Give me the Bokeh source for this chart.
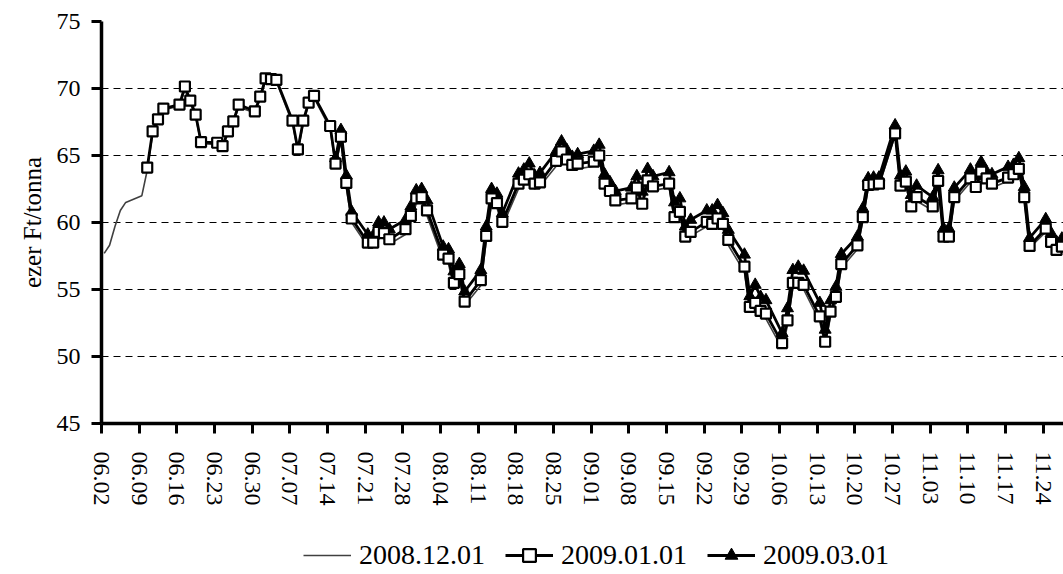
import pandas as pd
from bokeh.plotting import figure
from bokeh.layouts import column
from bokeh.models import Range1d, FixedTicker, Legend, LegendItem, ColumnDataSource
from bokeh.embed import file_html
from bokeh.resources import INLINE

# trading days (2008, month.day)
dates = [
    # June
    "06.02", "06.03", "06.04", "06.05", "06.06", "06.09", "06.10", "06.11", "06.12", "06.13",
    "06.16", "06.17", "06.18", "06.19", "06.20", "06.23", "06.24", "06.25", "06.26", "06.27", "06.30",
    # July
    "07.01", "07.02", "07.03", "07.04", "07.07", "07.08", "07.09", "07.10", "07.11", "07.14",
    "07.15", "07.16", "07.17", "07.18", "07.21", "07.22", "07.23", "07.24", "07.25", "07.28",
    "07.29", "07.30", "07.31",
    # August
    "08.01", "08.04", "08.05", "08.06", "08.07", "08.08", "08.11", "08.12", "08.13", "08.14",
    "08.15", "08.18", "08.19", "08.20", "08.21", "08.22", "08.25", "08.26", "08.27", "08.28", "08.29",
    # September
    "09.01", "09.02", "09.03", "09.04", "09.05", "09.08", "09.09", "09.10", "09.11", "09.12",
    "09.15", "09.16", "09.17", "09.18", "09.19", "09.22", "09.23", "09.24", "09.25", "09.26",
    "09.29", "09.30",
    # October
    "10.01", "10.02", "10.03", "10.06", "10.07", "10.08", "10.09", "10.10", "10.13", "10.14",
    "10.15", "10.16", "10.17", "10.20", "10.21", "10.22", "10.23", "10.24", "10.27", "10.28",
    "10.29", "10.30", "10.31",
    # November
    "11.03", "11.04", "11.05", "11.06", "11.07", "11.10", "11.11", "11.12", "11.13", "11.14",
    "11.17", "11.18", "11.19", "11.20", "11.21", "11.24", "11.25", "11.26", "11.27",
]

s_2008_12_01 = [
    57.7, 58.3, 59.7, 60.9, 61.5, 62.0, 63.9, 66.6, 67.5, 68.4,
    68.7, 69.9, 68.9, 67.9, 65.9, 65.8, 65.6, 66.6, 67.4, 68.6, 68.2,
    69.2, 70.6, 70.5, 70.5, 67.4, 65.3, 67.4, 68.8, 69.3, 67.0,
    64.2, 66.1, 62.6, 60.0, 58.2, 58.2, 58.9, 58.8, 58.4, 59.1,
    60.1, 61.4, 61.5,
    60.5, 57.2, 56.9, 55.1, 55.8, 53.8, 55.3, 58.6, 61.4, 61.1,
    59.7, 62.5, 62.8, 63.2, 62.5, 62.7, 64.2, 64.9, 64.3, 63.9, 64.0,
    64.2, 64.7, 62.6, 62.0, 61.3, 61.5, 62.3, 61.1, 62.8, 62.4,
    62.6, 60.1, 60.5, 58.6, 59.0, 59.7, 59.6, 59.9, 59.5, 58.3,
    56.3, 53.3,
    53.6, 53.0, 52.8, 50.6, 52.3, 55.1, 55.1, 55.0, 52.6, 50.8,
    53.0, 54.1, 56.6, 58.0, 60.1, 62.6, 62.7, 62.7, 66.5, 62.5,
    62.8, 60.9, 61.6,
    60.9, 62.9, 58.8, 58.8, 61.6, 63.0, 62.4, 63.5, 63.0, 62.6,
    63.1, 63.3, 63.8, 61.7, 58.1, 59.3, 58.3, 57.7, 57.9,
]

s_2009_01_01 = [
    None, None, None, None, None, None, 64.1, 66.8, 67.7, 68.5,
    68.8, 70.15, 69.1, 68.05, 66.0, 65.95, 65.7, 66.8, 67.55, 68.8, 68.3,
    69.4, 70.75, 70.7, 70.65, 67.6, 65.45, 67.6, 68.95, 69.45, 67.2,
    64.4, 66.4, 62.95, 60.3, 58.5, 58.5, 59.3, 59.2, 58.75, 59.5,
    60.5, 61.8, 61.9,
    60.9, 57.6, 57.3, 55.5, 56.15, 54.1, 55.7, 59.0, 61.8, 61.45,
    60.05, 62.9, 63.2, 63.6, 62.9, 63.0, 64.6, 65.3, 64.7, 64.3, 64.4,
    64.55, 65.0, 62.9, 62.35, 61.65, 61.8, 62.6, 61.4, 63.15, 62.7,
    62.9, 60.4, 60.8, 58.95, 59.3, 60.05, 59.9, 60.3, 59.9, 58.7,
    56.7, 53.7,
    54.0, 53.4, 53.2, 51.0, 52.7, 55.5, 55.5, 55.35, 53.0, 51.1,
    53.35, 54.45, 56.9, 58.3, 60.4, 62.8, 62.85, 62.9, 66.65, 62.75,
    63.05, 61.2, 61.9,
    61.2, 63.1, 58.95, 58.95, 61.9, 63.3, 62.65, 63.8, 63.3, 62.9,
    63.35, 63.6, 64.0, 61.9, 58.25, 59.55, 58.55, 57.95, 58.2,
]

s_2009_03_01 = [
    None, None, None, None, None, None, None, None, None, None,
    None, None, None, None, None, None, None, None, None, None, None,
    None, None, None, None, None, None, None, None, None, None,
    64.8, 66.9, 63.5, 60.8, 59.1, 59.0, 60.0, 60.0, 59.5, 60.2,
    61.2, 62.4, 62.5,
    61.65, 58.2, 58.0, 56.35, 56.9, 54.85, 56.45, 59.7, 62.5, 62.15,
    60.7, 63.65, 63.95, 64.4, 63.5, 63.7, 65.3, 66.05, 65.4, 64.9, 65.1,
    65.35, 65.8, 63.6, 63.0, 62.35, 62.6, 63.45, 62.3, 64.0, 63.45,
    63.75, 61.5, 61.8, 59.7, 60.2, 60.9, 60.9, 61.3, 60.7, 59.45,
    57.6, 54.5,
    55.35, 54.45, 54.2, 51.75, 53.6, 56.45, 56.7, 56.4, 54.0, 52.0,
    54.2, 55.2, 57.65, 58.95, 61.05, 63.3, 63.35, 63.35, 67.25, 63.5,
    63.8, 62.05, 62.75,
    61.9, 63.9, 59.55, 59.55, 62.6, 63.95, 63.45, 64.5, 63.8, 63.6,
    64.15, 64.3, 64.8, 62.65, 58.85, 60.25, 59.2, 58.55, 58.8,
]

tick_labels = ["06.02", "06.09", "06.16", "06.23", "06.30", "07.07", "07.14", "07.21",
               "07.28", "08.04", "08.11", "08.18", "08.25", "09.01", "09.08", "09.15",
               "09.22", "09.29", "10.06", "10.13", "10.20", "10.27", "11.03", "11.10",
               "11.17", "11.24"]

series_names = ["2008.12.01", "2009.01.01", "2009.03.01"]
y_ticks = [45, 50, 55, 60, 65, 70, 75]

YEAR = "2008"
start = pd.Timestamp(YEAR + "-06-02")


def day_of(label):
    return (pd.Timestamp(YEAR + "-" + label.replace(".", "-")) - start).days


# points sit in the middle of each day slot (date axis)
xs = [day_of(d) + 0.5 for d in dates]
ticks = [day_of(t) for t in tick_labels]

nan = float("nan")
src = ColumnDataSource(dict(
    x=xs,
    a=[nan if v is None else v for v in s_2008_12_01],
    b=[nan if v is None else v for v in s_2009_01_01],
    c=[nan if v is None else v for v in s_2009_03_01],
))

FONT = "Liberation Serif"

# ---- styles
thin_style = dict(line_color="#404040", line_width=1.6)
bold_style = dict(line_color="black", line_width=2.8)
tri_style = dict(marker="triangle", size=12, fill_color="black", line_color="black", line_width=1)
sq_style = dict(marker="square", size=10, fill_color="white", line_color="black", line_width=2.2)

p = figure(width=1063, height=530, output_backend="svg", toolbar_location=None,
           x_range=Range1d(0, 178.8), y_range=Range1d(45, 75),
           min_border_left=101, min_border_right=0, min_border_top=21, min_border_bottom=107)
p.outline_line_color = None
p.background_fill_color = "white"
p.border_fill_color = "white"

# grid
p.xgrid.visible = False
p.ygrid.ticker = FixedTicker(ticks=y_ticks)
p.ygrid.grid_line_color = "black"
p.ygrid.grid_line_width = 1
p.ygrid.grid_line_dash = "7 5"

# axes
for ax in (p.xaxis[0], p.yaxis[0]):
    ax.axis_line_width = 3.5
    ax.axis_line_color = "black"
    ax.major_tick_line_width = 3
    ax.major_tick_line_color = "black"
    ax.major_tick_in = 0
    ax.major_tick_out = 10
    ax.minor_tick_line_color = None
    ax.major_label_text_font = FONT
    ax.major_label_text_font_size = "24px"
    ax.major_label_text_color = "black"

p.xaxis.ticker = FixedTicker(ticks=ticks)
p.xaxis.major_label_overrides = {t: lab for t, lab in zip(ticks, tick_labels)}
p.xaxis.major_label_orientation = "vertical"
p.xaxis.major_label_standoff = 18

p.yaxis.ticker = FixedTicker(ticks=y_ticks)
p.yaxis.major_label_standoff = 11
p.yaxis.axis_label = "ezer Ft/tonna"
p.yaxis.axis_label_text_font = FONT
p.yaxis.axis_label_text_font_size = "25px"
p.yaxis.axis_label_text_font_style = "normal"
p.yaxis.axis_label_text_color = "black"
p.yaxis.axis_label_standoff = 8

# series
p.line("x", "a", source=src, **thin_style)
p.line("x", "c", source=src, **bold_style)
p.scatter("x", "c", source=src, **tri_style)
p.line("x", "b", source=src, **bold_style)
p.scatter("x", "b", source=src, **sq_style)

# ---- legend strip below the chart (its frame is aligned with the chart's frame)
lf = figure(width=1063, height=44, output_backend="svg", toolbar_location=None,
            x_range=Range1d(0, 1), y_range=Range1d(0, 1),
            min_border_left=0, min_border_right=0, min_border_top=0, min_border_bottom=0)
lf.axis.visible = False
lf.grid.visible = False
lf.outline_line_color = None
lf.background_fill_color = "white"
lf.border_fill_color = "white"

# proxy renderers for the legend keys (their points lie outside the visible range)
proxy = ColumnDataSource(dict(x=[-5, -4], y=[-5, -4]))
l_a = lf.line("x", "y", source=proxy, **thin_style)
l_bl = lf.line("x", "y", source=proxy, **bold_style)
l_bm = lf.scatter("x", "y", source=proxy, **sq_style)
l_cl = lf.line("x", "y", source=proxy, **bold_style)
l_cm = lf.scatter("x", "y", source=proxy, **tri_style)

legend = Legend(items=[
    LegendItem(label=series_names[0], renderers=[l_a]),
    LegendItem(label=series_names[1], renderers=[l_bl, l_bm]),
    LegendItem(label=series_names[2], renderers=[l_cl, l_cm]),
], orientation="horizontal", location=(202, 3))
legend.padding = 0
legend.margin = 0
legend.spacing = 20
legend.glyph_width = 48
legend.glyph_height = 32
legend.label_height = 32
legend.label_standoff = 8
legend.label_text_font = FONT
legend.label_text_font_size = "28px"
legend.label_text_color = "black"
legend.border_line_color = None
legend.background_fill_alpha = 0
lf.add_layout(legend)

layout = column(p, lf, spacing=0)
open("out.html", "w").write(file_html(layout, INLINE))
